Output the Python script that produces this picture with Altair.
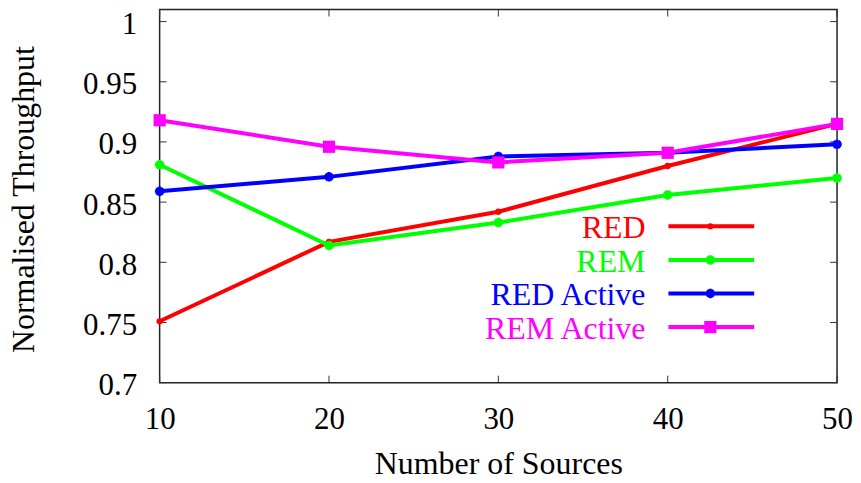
import altair as alt
import pandas as pd

sources = [10, 20, 30, 40, 50]
series_names = ["RED", "REM", "RED Active", "REM Active"]
series_colors = ["#ff0000", "#00ff00", "#0000ff", "#ff00ff"]
red = [0.751, 0.817, 0.842, 0.880, 0.915]
rem = [0.881, 0.814, 0.833, 0.856, 0.870]
red_active = [0.859, 0.871, 0.888, 0.891, 0.898]
rem_active = [0.918, 0.896, 0.883, 0.891, 0.915]
y_ticks = [0.7, 0.75, 0.8, 0.85, 0.9, 0.95, 1.0]
x_ticks = [10, 20, 30, 40, 50]

values = [red, rem, red_active, rem_active]
asterisk = "M-1,0L1,0M0,-1L0,1M-0.7,-0.7L0.7,0.7M-0.7,0.7L0.7,-0.7"
shapes = ["circle", asterisk, asterisk, "square"]
sizes = [40, 90, 90, 150]
filled = [True, False, False, True]

W, H = 679, 374
FONT = "Liberation Serif"
FS = 31

color_scale = alt.Scale(domain=series_names, range=series_colors)
xs = alt.Scale(domain=[10, 50], nice=False, zero=False)
ys = alt.Scale(domain=[0.7, 1.01], nice=False, zero=False)

x_axis = alt.Axis(values=x_ticks, title="Number of Sources", labelFont=FONT, labelFontSize=FS,
                  titleFont=FONT, titleFontSize=32, titleFontWeight="normal", labelColor="black",
                  titleColor="black", ticks=False, tickSize=0, domain=False, grid=False,
                  labelFlush=False, labelOverlap=False,
                  labelBaseline="alphabetic", labelPadding=46, titleBaseline="alphabetic", titleY=91)
y_axis = alt.Axis(values=y_ticks, title="Normalised Throughput", format="~g", labelFont=FONT,
                  labelFontSize=FS, titleFont=FONT, titleFontSize=32, titleFontWeight="normal",
                  labelColor="black", titleColor="black", ticks=False, tickSize=0, domain=False,
                  grid=False, labelFlush=False, labelOverlap=False,
                  labelBaseline="alphabetic", labelOffset=12, labelPadding=23,
                  titleBaseline="alphabetic", titleAngle=270, titleX=-126, titleY=190)

layers = []

# tick marks (inward, gnuplot style)
ytick_df = pd.DataFrame({"v": y_ticks})
xtick_df = pd.DataFrame({"v": x_ticks})
tick_color = "#333333"
layers.append(alt.Chart(ytick_df).mark_rule(color=tick_color, strokeWidth=1).encode(
    y=alt.Y("v:Q", scale=ys, axis=y_axis), x=alt.value(0), x2=alt.value(7)))
layers.append(alt.Chart(ytick_df).mark_rule(color=tick_color, strokeWidth=1).encode(
    y=alt.Y("v:Q", scale=ys), x=alt.value(W - 7), x2=alt.value(W)))
layers.append(alt.Chart(xtick_df).mark_rule(color=tick_color, strokeWidth=1).encode(
    x=alt.X("v:Q", scale=xs, axis=x_axis), y=alt.value(H - 7), y2=alt.value(H)))
layers.append(alt.Chart(xtick_df).mark_rule(color=tick_color, strokeWidth=1).encode(
    x=alt.X("v:Q", scale=xs), y=alt.value(0), y2=alt.value(7)))

for i, name in enumerate(series_names):
    df = pd.DataFrame({"sources": sources, "value": values[i], "series": name})
    base = alt.Chart(df).encode(
        x=alt.X("sources:Q", scale=xs),
        y=alt.Y("value:Q", scale=ys),
        color=alt.Color("series:N", scale=color_scale, legend=None),
    )
    layers.append(base.mark_line(strokeWidth=4))
    layers.append(base.mark_point(shape=shapes[i], size=sizes[i], filled=filled[i],
                                  strokeWidth=3, opacity=1))

# in-plot legend (label left of sample, gnuplot style)
leg = pd.DataFrame({"series": series_names, "row": list(range(len(series_names)))})
leg_base = alt.Chart(leg).transform_calculate(ly="0.8299 - datum.row * 0.0279").encode(
    y=alt.Y("ly:Q", scale=ys),
    color=alt.Color("series:N", scale=color_scale, legend=None),
)
layers.append(leg_base.mark_text(align="right", baseline="alphabetic", dy=11.7, font=FONT,
                                  fontSize=32).encode(x=alt.value(487), text="series:N"))
layers.append(leg_base.mark_rule(strokeWidth=4).encode(x=alt.value(510), x2=alt.value(596)))
for i, name in enumerate(series_names):
    one = alt.Chart(leg[leg.series == name]).transform_calculate(
        ly="0.8299 - datum.row * 0.0279").encode(
        y=alt.Y("ly:Q", scale=ys),
        color=alt.Color("series:N", scale=color_scale, legend=None),
        x=alt.value(552),
    ).mark_point(shape=shapes[i], size=sizes[i], filled=filled[i], strokeWidth=3, opacity=1)
    layers.append(one)

chart = alt.layer(*layers).properties(
    width=W, height=H,
    padding=0,
).configure_view(stroke="#222222", strokeWidth=1.5)

chart.save("out.html", embed_options={"renderer": "svg", "actions": False})
